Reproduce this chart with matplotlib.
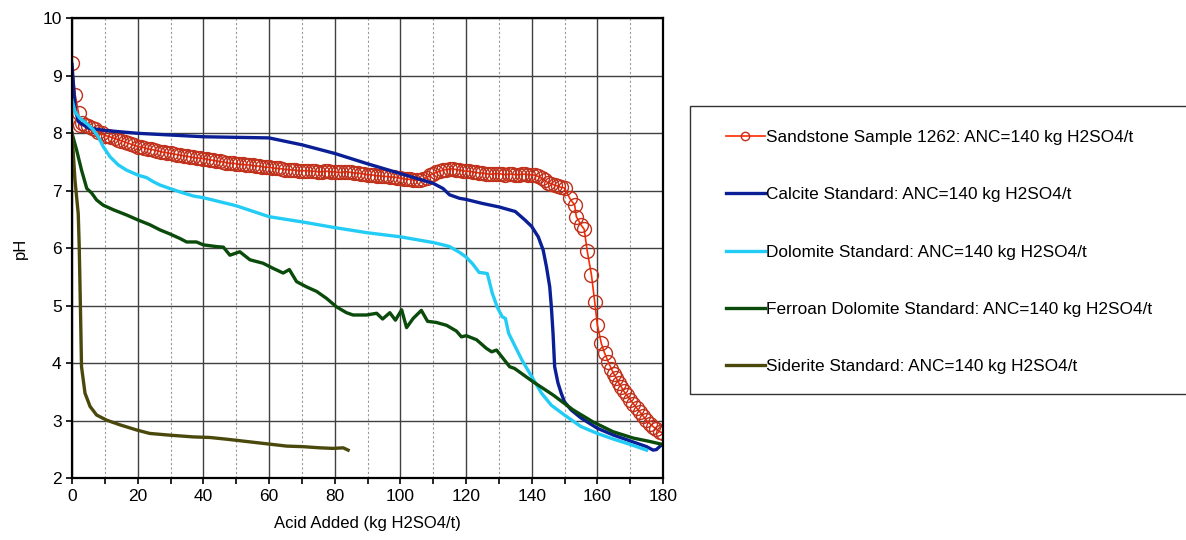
import numpy as np
import matplotlib.pyplot as plt
from matplotlib.ticker import MultipleLocator
from matplotlib.patches import Rectangle

plt.rcParams['font.family'] = ['Liberation Sans', 'DejaVu Sans']

sand_x = [0, 1, 2, 2.5, 3, 4, 5, 6, 7, 8, 9, 10, 11, 12, 13, 14, 15, 16, 17, 18, 19, 20,
          21, 22, 23, 24, 25, 26, 27, 28, 29, 30, 31, 32, 33, 34, 35, 36, 37, 38, 39, 40,
          41, 42, 43, 44, 45, 46, 47, 48, 49, 50, 51, 52, 53, 54, 55, 56, 57, 58, 59, 60,
          61, 62, 63, 64, 65, 66, 67, 68, 69, 70, 71, 72, 73, 74, 75, 76, 77, 78, 79, 80,
          81, 82, 83, 84, 85, 86, 87, 88, 89, 90, 91, 92, 93, 94, 95, 96, 97, 98, 99, 100,
          101, 102, 103, 104, 105, 106, 107, 108, 109, 110, 111, 112, 113, 114, 115, 116, 117, 118, 119, 120,
          121, 122, 123, 124, 125, 126, 127, 128, 129, 130, 131, 132, 133, 134, 135, 136, 137, 138, 139, 140,
          141, 142, 143, 144, 145, 146, 147, 148, 149, 150,
          151.6, 153.1, 153.6, 155, 156, 156.9, 158.2, 159.2, 160, 161.2, 162.2, 163.3, 164.3, 165, 165.8,
          166.5, 167.3, 168, 168.9, 170, 170.9, 172, 172.9, 174, 174.9, 176, 177, 178, 179, 180]
sand_y = [9.22, 8.66, 8.35, 8.14, 8.18, 8.14, 8.12, 8.10, 8.07, 8.03, 8.00, 7.96, 7.95, 7.93, 7.91, 7.89, 7.87, 7.85, 7.83, 7.81, 7.79, 7.77,
          7.76, 7.75, 7.73, 7.72, 7.71, 7.70, 7.68, 7.67, 7.66, 7.65, 7.64, 7.63, 7.62, 7.61, 7.60, 7.59, 7.58, 7.57, 7.57, 7.56,
          7.55, 7.54, 7.53, 7.52, 7.51, 7.50, 7.49, 7.48, 7.48, 7.47, 7.46, 7.46, 7.45, 7.45, 7.44, 7.43, 7.43, 7.42, 7.41, 7.41,
          7.40, 7.39, 7.39, 7.38, 7.37, 7.37, 7.36, 7.36, 7.35, 7.35, 7.35, 7.35, 7.34, 7.34, 7.33, 7.33, 7.34, 7.34, 7.33, 7.33,
          7.32, 7.32, 7.33, 7.33, 7.32, 7.31, 7.31, 7.30, 7.29, 7.28, 7.28, 7.27, 7.26, 7.26, 7.25, 7.25, 7.24, 7.24, 7.23, 7.22,
          7.21, 7.20, 7.20, 7.19, 7.18, 7.19, 7.20, 7.23, 7.27, 7.30, 7.32, 7.34, 7.36, 7.37, 7.38, 7.38, 7.37, 7.36, 7.35, 7.34,
          7.34, 7.33, 7.32, 7.31, 7.31, 7.30, 7.29, 7.29, 7.30, 7.30, 7.29, 7.28, 7.29, 7.29, 7.28, 7.28, 7.29, 7.29, 7.28, 7.28,
          7.27, 7.25, 7.22, 7.18, 7.14, 7.12, 7.10, 7.08, 7.06, 7.05,
          6.87, 6.75, 6.55, 6.41, 6.33, 5.96, 5.54, 5.07, 4.67, 4.35, 4.18, 4.03, 3.90, 3.82, 3.74,
          3.66, 3.59, 3.52, 3.45, 3.37, 3.30, 3.22, 3.16, 3.08, 3.01, 2.95, 2.90, 2.85, 2.81, 2.79]

calc_x = [0, 0.5, 1, 2, 5, 10, 20, 30, 40, 50, 60, 70, 80, 90, 100, 110, 113, 115, 118, 120,
          125, 130, 135, 138, 140, 142, 143.5, 144.5, 145.5, 146, 146.5, 147, 148, 149, 150, 152,
          155, 160, 165, 170, 175, 177, 178, 179.5]
calc_y = [9.2, 8.8, 8.4, 8.2, 8.09, 8.05, 8.0, 7.97, 7.94, 7.93, 7.92, 7.80, 7.65, 7.47, 7.30, 7.13, 7.04, 6.93, 6.87, 6.85,
          6.78, 6.72, 6.64, 6.49, 6.38, 6.2, 5.97, 5.68, 5.33, 4.98, 4.53, 3.94, 3.66, 3.48, 3.33, 3.19,
          3.05, 2.87, 2.75, 2.65, 2.55, 2.49, 2.50, 2.58]

dolo_x = [0, 0.9, 2.4, 4.5, 6.5, 8, 9.5, 11.6, 14.1, 16.6, 20.2, 22.7, 24.7, 26.8, 29.8, 32.9, 36.9, 40,
          50, 60, 70, 80, 90, 100, 110, 113, 115, 118, 120, 122, 124, 125.5, 126.5, 128, 129.5, 131,
          132, 133, 135, 137, 140, 143, 146, 150, 155, 160, 165, 170, 175]
dolo_y = [8.58, 8.38, 8.26, 8.17, 8.06, 7.94, 7.77, 7.59, 7.45, 7.36, 7.27, 7.23, 7.16, 7.10, 7.04, 6.98, 6.91, 6.88,
          6.74, 6.55, 6.46, 6.36, 6.27, 6.20, 6.10, 6.06, 6.03, 5.93, 5.85, 5.73, 5.58, 5.57, 5.56, 5.22, 4.98, 4.81,
          4.78, 4.52, 4.29, 4.06, 3.77, 3.48, 3.27, 3.10, 2.90, 2.78, 2.68, 2.59, 2.49]

ferr_x = [0, 1.4, 2.9, 4.5, 6, 7.5, 9.5, 12.6, 16.6, 20.2, 23.7, 26.8, 29.8, 32.9, 34.9, 37.9, 40, 44,
          46.1, 48.1, 51.1, 54.2, 58.2, 61.3, 64.3, 66.2, 68.4, 71.4, 74.5, 77.5, 80.6, 83.6, 85.6, 89.7,
          92.8, 94.6, 96.8, 98.5, 100.4, 101.9, 103.9, 106.4, 108.3, 111, 114.1, 117.1, 118.6, 120.1, 123.2,
          126.2, 127.8, 129.3, 133.3, 134.8, 140.4, 146.5, 152.6, 158.7, 164.8, 170.9, 176, 180.5]
ferr_y = [8.0, 7.71, 7.36, 7.04, 6.96, 6.84, 6.75, 6.67, 6.58, 6.49, 6.41, 6.32, 6.25, 6.17, 6.11, 6.11, 6.06, 6.03,
          6.02, 5.88, 5.94, 5.80, 5.74, 5.65, 5.57, 5.63, 5.42, 5.33, 5.25, 5.13, 4.98, 4.88, 4.84, 4.84,
          4.87, 4.77, 4.88, 4.75, 4.93, 4.62, 4.78, 4.92, 4.73, 4.71, 4.66, 4.56, 4.46, 4.48, 4.41,
          4.26, 4.20, 4.23, 3.94, 3.91, 3.68, 3.45, 3.19, 2.98, 2.81, 2.70, 2.64, 2.58]

side_x = [0, 0.9, 1.9, 2.2, 2.6, 2.9, 3.96, 5.5, 7.5, 10.6, 14.6, 19.7, 23.7, 29.8, 36.9, 42, 47.1,
          53.2, 59.3, 65.4, 70.4, 75.5, 79.5, 82.6, 84.1]
side_y = [8.0, 7.19, 6.6, 6.03, 4.87, 3.94, 3.48, 3.25, 3.10, 3.01, 2.93, 2.84, 2.78, 2.75, 2.72, 2.71, 2.68,
          2.64, 2.60, 2.56, 2.55, 2.53, 2.52, 2.53, 2.49]

labels = ["Sandstone Sample 1262: ANC=140 kg H2SO4/t",
          "Calcite Standard: ANC=140 kg H2SO4/t",
          "Dolomite Standard: ANC=140 kg H2SO4/t",
          "Ferroan Dolomite Standard: ANC=140 kg H2SO4/t",
          "Siderite Standard: ANC=140 kg H2SO4/t"]


def main():
	fig = plt.figure(figsize=(11.86, 5.4), dpi=100)
	ax = fig.add_axes([72/1186, 1 - 478.3/540, (663 - 72)/1186, (478.3 - 18.3)/540])

	ax.plot(sand_x, sand_y, color='#ff2a00', lw=1.2, marker='o', markersize=10,
	        markerfacecolor='none', markeredgecolor='#c0301a', markeredgewidth=1.0, label=labels[0])
	ax.plot(calc_x, calc_y, color='#0a1e96', lw=2.4, label=labels[1])
	ax.plot(dolo_x, dolo_y, color='#22ccf5', lw=2.4, label=labels[2])
	ax.plot(ferr_x, ferr_y, color='#0a4a0a', lw=2.4, label=labels[3])
	ax.plot(side_x, side_y, color='#4b480c', lw=2.4, label=labels[4])

	ax.set_xlim(0, 180)
	ax.set_ylim(2, 10)
	ax.xaxis.set_major_locator(MultipleLocator(20))
	ax.xaxis.set_minor_locator(MultipleLocator(10))
	ax.yaxis.set_major_locator(MultipleLocator(1))
	ax.grid(which='major', color='#404040', lw=1.0)
	ax.grid(which='minor', axis='x', color='#999999', lw=0.8, linestyle=(0, (2, 2)))
	ax.set_axisbelow(True)
	for s in ax.spines.values():
		s.set_linewidth(1.6)
		s.set_color('black')
	ax.tick_params(which='both', direction='out', length=4, width=1.2, labelsize=12.5)
	ax.set_xlabel('Acid Added (kg H2SO4/t)', fontsize=12, labelpad=8.5)
	ax.set_ylabel('pH', fontsize=12, labelpad=10)

	# legend frame drawn by hand so the padding can differ per side
	fig.patches.append(Rectangle((690/1186, 1 - 394/540), 0.45, (394 - 105.7)/540,
	                             transform=fig.transFigure, fill=False,
	                             edgecolor='#333333', lw=1.0))
	fig.legend(loc='upper left', bbox_to_anchor=(726/1186, 1 - 130/540),
	           fontsize=12.4, frameon=False, handlelength=2.25, handletextpad=0.1,
	           labelspacing=2.45, borderpad=0, borderaxespad=0, markerscale=0.6)

	plt.savefig('out.png', dpi=100)


if __name__ == '__main__':
	main()
